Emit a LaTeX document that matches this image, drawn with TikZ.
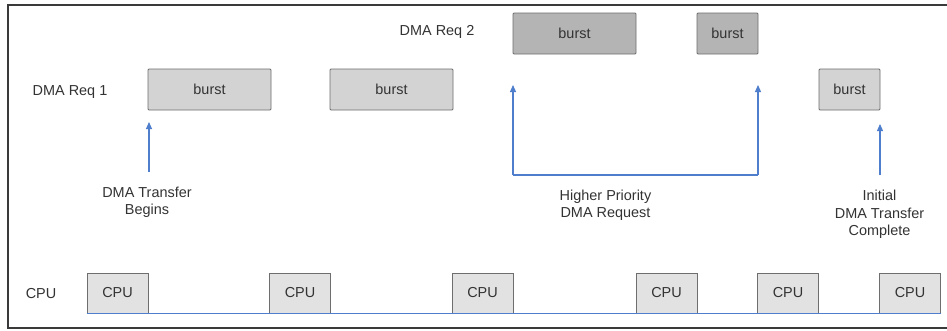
\documentclass[tikz,border=0pt]{standalone}
\usepackage{fontspec}
\setmainfont{Liberation Sans}
\usetikzlibrary{arrows.meta}
\definecolor{frame}{HTML}{3A3A3A}
\definecolor{boxline}{HTML}{6E6E6E}
\definecolor{lightfill}{HTML}{D3D3D3}
\definecolor{darkfill}{HTML}{B4B4B4}
\definecolor{cpufill}{HTML}{E2E2E2}
\definecolor{arrowblue}{HTML}{4F7FCC}
\definecolor{txt}{HTML}{333333}
\tikzset{
  lbl/.style={font=\fontsize{14.5}{17.5}\selectfont, text=txt, align=center, inner sep=0pt},
  burstbox/.style={draw=boxline, line width=0.8bp, rounded corners=1bp, fill=lightfill, minimum height=41bp, inner sep=0pt, font=\fontsize{14.5}{17}\selectfont, text=txt},
  darkburst/.style={burstbox, fill=darkfill},
  cpubox/.style={draw=boxline, line width=0.8bp, fill=cpufill, minimum width=61bp, minimum height=40bp, inner sep=0pt, font=\fontsize{14.5}{17}\selectfont, text=txt},
  bluearrow/.style={draw=arrowblue, line width=1.1bp, -{Triangle[length=7bp,width=6bp]}},
}
\begin{document}
\begin{tikzpicture}[x=1bp,y=-1bp]
\useasboundingbox (0,0) rectangle (947,330);
\fill[white] (0,0) rectangle (947,330);
\draw[frame, line width=1.6bp] (948,5) -- (8,5) -- (8,328) -- (948,328);

% row labels
\node[lbl] (req1) at (70,92) {DMA Req 1};
\node[lbl] (req2) at (437,32) {DMA Req 2};
\node[lbl] (cpulbl) at (41,294) {CPU};

% DMA Req 1 bursts
\node[burstbox, minimum width=123bp] (b1) at (209.5,89.5) {burst};
\node[burstbox, minimum width=123bp] (b2) at (391.5,89.5) {burst};
\node[burstbox, minimum width=61bp] (b3) at (849.5,89.5) {burst};
% DMA Req 2 bursts
\node[darkburst, minimum width=123bp] (b4) at (574.5,33.5) {burst};
\node[darkburst, minimum width=61bp] (b5) at (727.5,33.5) {burst};

% annotations
\node[lbl] (t1) at (147,202.5) {DMA Transfer\\Begins};
\node[lbl] (t2) at (605.5,205) {Higher Priority\\DMA Request};
\node[lbl] (t3) at (879.5,214.5) {Initial\\DMA Transfer\\Complete};

% arrows
\coordinate (a1s) at (149,172);
\coordinate (a1e) at (149,122);
\draw[bluearrow] (a1s) -- (a1e);
\coordinate (a2e) at (513,85);
\coordinate (a3e) at (758,85);
\coordinate (a2s) at (513,175);
\coordinate (a3s) at (758,175);
\draw[arrowblue, line width=1.1bp] (a2s) -- (a3s);
\draw[bluearrow] (a2s) -- (a2e);
\draw[bluearrow] (a3s) -- (a3e);
\coordinate (a4s) at (880,175);
\coordinate (a4e) at (880,124);
\draw[bluearrow] (a4s) -- (a4e);

% CPU boxes
\node[cpubox] (c1) at (117.5,293) {CPU};
\node[cpubox] (c2) at (300,293) {CPU};
\node[cpubox] (c3) at (482.5,293) {CPU};
\node[cpubox] (c4) at (666.5,293) {CPU};
\node[cpubox] (c5) at (788,293) {CPU};
\node[cpubox] (c6) at (910,293) {CPU};
\draw[arrowblue, line width=1bp] (c1.south west) -- (c6.south east);
\end{tikzpicture}
\end{document}
